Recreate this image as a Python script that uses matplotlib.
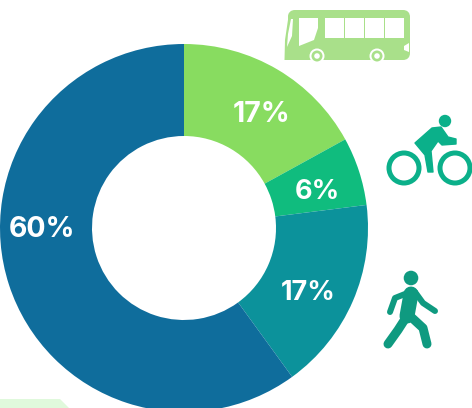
import matplotlib
matplotlib.use('Agg')
import matplotlib.pyplot as plt
from matplotlib.patches import Circle, FancyBboxPatch, Polygon, Rectangle

shares = [17, 6, 17, 60]
labels = ['17%', '6%', '17%', '60%']
colors = ['#88dc60', '#10bc7e', '#0c929b', '#0f6d9c']
label_pos = [(261.5, 114), (317, 192), (308, 293), (42, 229.5)]
label_size = [20.5, 19.5, 19.5, 20.5]

H = 408
plt.rcParams['font.family'] = ['Inter', 'DejaVu Sans']


def flip(points):
    # picture coords have y going down
    return [(x, H - y) for x, y in points]


fig = plt.figure(figsize=(4.72, 4.08), dpi=100)
ax = fig.add_axes([0, 0, 1, 1])

ax.pie(shares, colors=colors, startangle=90, counterclock=False,
       center=(184, H - 228), radius=184,
       wedgeprops=dict(width=92, linewidth=0))
ax.set_xlim(0, 472)
ax.set_ylim(0, H)
ax.set_aspect('auto')
ax.axis('off')

for txt, (x, y), size in zip(labels, label_pos, label_size):
    ax.text(x, H - y, txt, color='white', fontsize=size, fontweight='bold',
            ha='center', va='center')

# pale corner shape bottom left
ax.add_patch(Polygon(flip([(0, 399), (60, 399), (69, 408), (0, 408)]),
                     color='#e0f9dc', lw=0))

# bus
bus = '#a9e08a'
ax.add_patch(FancyBboxPatch((291, H - 57), 116, 44,
                            boxstyle='round,pad=0,rounding_size=4',
                            fc=bus, ec=bus, lw=6 * 0.72))
ax.add_patch(Polygon(flip([(289, 13), (285, 40), (284.5, 60), (300, 60), (300, 13)]),
                     color=bus, lw=0))
for x0 in [325, 345, 365, 385]:
    ax.add_patch(Rectangle((x0, H - 38), 18.5, 20, color='white', lw=0))
ax.add_patch(Polygon(flip([(299, 18), (318, 18), (318, 28), (314, 40), (299, 46)]),
                     color='white', lw=0))
ax.add_patch(Polygon(flip([(291, 19), (293, 19), (292, 36), (287, 47), (288, 34)]),
                     color='white', lw=0))
ax.add_patch(Polygon(flip([(409, 43), (409, 52), (404, 50), (404, 46)]),
                     color='white', lw=0))
for cx in [317, 377]:
    ax.add_patch(Circle((cx, H - 56), 7.5, color='white', lw=0))
    ax.add_patch(Circle((cx, H - 56), 5.5, color=bus, lw=0))
    ax.add_patch(Circle((cx, H - 56), 2.8, color='white', lw=0))

# bike
bike = '#0bb08a'
for cx in [404, 455]:
    ax.add_patch(Circle((cx, H - 168), 15, fc='none', ec=bike, lw=5 * 0.72))
ax.add_patch(Circle((445, H - 121), 6.2, color=bike, lw=0))
ax.add_patch(Polygon(flip([(415, 143), (432, 128), (441, 127), (448, 137),
                           (456, 139), (456, 144), (442, 145), (438, 141),
                           (431, 151), (433, 172), (428, 172), (425, 155)]),
                     color=bike, ec=bike, lw=1, joinstyle='round'))

# walker
walk = '#0f9a80'
ax.add_patch(Circle((411, H - 278), 7.3, color=walk, lw=0))
limbs = [([(410, 292), (395, 298), (390, 312)], 6),
         ([(415, 292), (423, 303), (435, 311)], 6),
         ([(411, 294), (407, 316)], 15),
         ([(407, 316), (398, 330), (388, 344)], 9),
         ([(410, 316), (423, 328), (427, 344)], 9)]
for pts, width in limbs:
    pts = flip(pts)
    ax.plot([p[0] for p in pts], [p[1] for p in pts], color=walk,
            lw=width * 0.72, solid_capstyle='round', solid_joinstyle='round')

fig.savefig('out.png', dpi=100)
